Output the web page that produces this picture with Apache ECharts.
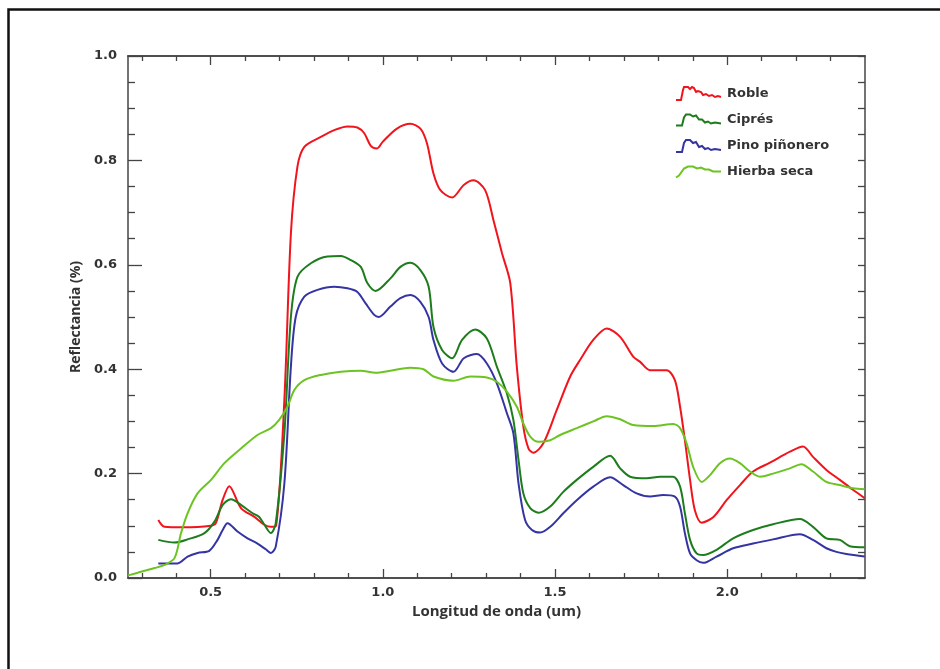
<!DOCTYPE html>
<html>
<head>
<meta charset="utf-8">
<script src="https://cdn.jsdelivr.net/npm/echarts@6/dist/echarts.min.js"></script>
<style>
  html, body { margin: 0; padding: 0; background: #fff; }
  #chart { width: 940px; height: 669px; }
</style>
</head>
<body>
<div id="chart"></div>
<script>
// espectros de reflectancia
var seriesNames = ['Roble', 'Ciprés', 'Pino piñonero', 'Hierba seca'];
var seriesColors = ['#f2141c', '#1d7d1d', '#3434a2', '#6cc423'];

var robleX = [0.348,0.366,0.42,0.5,0.515,0.535,0.554,0.588,0.627,0.656,0.675,0.69,0.714,0.733,0.752,0.772,0.82,0.859,0.897,0.926,0.946,0.965,0.983,1.0,1.041,1.08,1.109,1.128,1.147,1.167,1.201,1.235,1.263,1.297,1.321,1.346,1.37,1.389,1.408,1.423,1.437,1.466,1.505,1.544,1.573,1.611,1.65,1.689,1.727,1.747,1.776,1.824,1.848,1.863,1.877,1.892,1.906,1.926,1.96,1.998,2.037,2.075,2.124,2.182,2.22,2.249,2.288,2.327,2.365,2.399];
var robleY = [0.111,0.098,0.097,0.100,0.105,0.150,0.176,0.134,0.117,0.102,0.098,0.100,0.341,0.660,0.788,0.826,0.845,0.858,0.865,0.863,0.852,0.828,0.823,0.836,0.861,0.870,0.861,0.833,0.775,0.743,0.729,0.753,0.762,0.743,0.686,0.622,0.565,0.405,0.290,0.248,0.240,0.258,0.322,0.386,0.418,0.456,0.478,0.462,0.424,0.414,0.398,0.398,0.379,0.328,0.264,0.188,0.130,0.106,0.117,0.149,0.178,0.204,0.221,0.242,0.252,0.232,0.207,0.188,0.169,0.153];

var cipresX = [0.348,0.395,0.433,0.482,0.511,0.535,0.559,0.588,0.622,0.641,0.656,0.675,0.689,0.714,0.733,0.752,0.791,0.839,0.878,0.907,0.936,0.955,0.979,1.022,1.051,1.08,1.109,1.133,1.147,1.172,1.201,1.23,1.268,1.302,1.331,1.36,1.379,1.394,1.408,1.428,1.452,1.486,1.524,1.563,1.611,1.66,1.689,1.718,1.766,1.805,1.843,1.863,1.877,1.892,1.911,1.93,1.969,2.017,2.075,2.133,2.211,2.249,2.288,2.327,2.356,2.399];
var cipresY = [0.073,0.068,0.074,0.086,0.108,0.140,0.151,0.140,0.124,0.117,0.102,0.086,0.105,0.277,0.500,0.577,0.603,0.616,0.617,0.609,0.596,0.565,0.550,0.574,0.596,0.604,0.590,0.558,0.481,0.437,0.421,0.456,0.476,0.459,0.405,0.354,0.303,0.226,0.162,0.134,0.125,0.137,0.165,0.188,0.213,0.234,0.210,0.194,0.191,0.194,0.194,0.175,0.124,0.073,0.047,0.044,0.054,0.076,0.092,0.103,0.113,0.098,0.076,0.073,0.061,0.059];

var pinoX = [0.348,0.404,0.433,0.462,0.496,0.52,0.535,0.549,0.578,0.607,0.636,0.66,0.675,0.689,0.714,0.733,0.747,0.772,0.81,0.859,0.897,0.926,0.95,0.975,0.988,1.022,1.051,1.08,1.109,1.133,1.147,1.172,1.205,1.235,1.273,1.302,1.331,1.36,1.379,1.394,1.413,1.433,1.457,1.486,1.524,1.563,1.611,1.66,1.698,1.737,1.776,1.814,1.848,1.863,1.877,1.892,1.911,1.93,1.969,2.017,2.075,2.133,2.211,2.249,2.288,2.317,2.346,2.399];
var pinoY = [0.028,0.028,0.041,0.048,0.052,0.073,0.092,0.105,0.089,0.076,0.066,0.055,0.048,0.060,0.181,0.405,0.500,0.539,0.552,0.558,0.555,0.548,0.526,0.504,0.500,0.520,0.536,0.542,0.529,0.500,0.456,0.411,0.395,0.421,0.429,0.411,0.373,0.316,0.277,0.181,0.111,0.092,0.087,0.098,0.124,0.149,0.175,0.193,0.178,0.162,0.156,0.159,0.156,0.137,0.086,0.047,0.034,0.029,0.041,0.057,0.066,0.074,0.084,0.073,0.057,0.050,0.046,0.041];

var hierbaX = [0.26,0.288,0.337,0.366,0.395,0.414,0.433,0.462,0.501,0.54,0.588,0.636,0.675,0.699,0.723,0.743,0.772,0.82,0.878,0.936,0.979,1.022,1.08,1.118,1.147,1.205,1.254,1.302,1.331,1.36,1.389,1.408,1.428,1.452,1.486,1.515,1.563,1.611,1.65,1.689,1.727,1.786,1.843,1.863,1.882,1.901,1.926,1.95,1.979,2.008,2.037,2.066,2.095,2.133,2.182,2.215,2.249,2.288,2.327,2.365,2.399];
var hierbaY = [0.005,0.010,0.019,0.025,0.038,0.086,0.124,0.162,0.188,0.220,0.248,0.274,0.287,0.303,0.328,0.360,0.379,0.389,0.395,0.397,0.393,0.397,0.403,0.400,0.386,0.378,0.386,0.384,0.376,0.357,0.328,0.296,0.271,0.261,0.264,0.274,0.287,0.300,0.310,0.304,0.293,0.291,0.295,0.287,0.258,0.213,0.184,0.197,0.220,0.229,0.220,0.204,0.194,0.200,0.210,0.218,0.204,0.184,0.178,0.172,0.170];

var xMajorTicks = [0.5, 1.0, 1.5, 2.0];
var xMinorTicks = [0.3,0.4,0.6,0.7,0.8,0.9,1.1,1.2,1.3,1.4,1.6,1.7,1.8,1.9,2.1,2.2,2.3];

// iconos de leyenda con forma de espectro
var legendIcons = [
  'path://M0,14 L5,14 L7,4 L8,1 L12,1 L14,3 L16,1 L18,2 L20,6 L22,5 L25,6 L27,9 L30,8 L33,10 L36,9 L39,11 L42,10 L45,11',
  'path://M0,14 L6,14 L8,6 L10,3 L14,3 L17,5 L20,4 L23,8 L26,8 L29,11 L32,10 L35,12 L39,11 L45,12',
  'path://M0,14 L6,14 L8,5 L10,2 L14,2 L17,5 L20,4 L23,9 L26,8 L29,11 L32,10 L35,12 L39,11 L45,12',
  'path://M0,14 L3,12 L8,5 L12,3 L17,3 L21,5 L25,4 L29,6 L33,6 L37,8 L41,8 L45,8'
];

function zip(xs, ys) {
  var out = [];
  for (var i = 0; i < xs.length; i++) out.push([xs[i], ys[i]]);
  return out;
}
var allData = [zip(robleX, robleY), zip(cipresX, cipresY), zip(pinoX, pinoY), zip(hierbaX, hierbaY)];

var axisColor = '#444';
var txt = { color: '#333', fontWeight: 'bold', fontSize: 13, fontFamily: 'DejaVu Sans' };

function xAxisBase(pos, ticks, len, labels) {
  return {
    type: 'value', position: pos, min: 0.26, max: 2.4,
    axisLine: { show: true, onZero: false, lineStyle: { color: axisColor, width: 1.5 } },
    axisTick: { show: true, inside: true, length: len, customValues: ticks, lineStyle: { color: axisColor, width: 1.3 } },
    axisLabel: labels ? {
      show: true, customValues: xMajorTicks, margin: 8,
      formatter: function (v) { return v.toFixed(1); },
      color: txt.color, fontWeight: txt.fontWeight, fontSize: txt.fontSize, fontFamily: txt.fontFamily
    } : { show: false },
    splitLine: { show: false }
  };
}

var chart = echarts.init(document.getElementById('chart'));
var option = {
  animation: false,
  backgroundColor: '#fff',
  graphic: [{
    type: 'rect', left: 6, top: 7, shape: { width: 1000, height: 1000 },
    style: { fill: 'none', stroke: '#111', lineWidth: 2.5 }, silent: true
  }],
  grid: { left: 128, right: 75, top: 56, bottom: 91, containLabel: false },
  legend: {
    orient: 'vertical', left: 670, top: 81,
    itemWidth: 45, itemHeight: 15, itemGap: 12.5,
    textStyle: { color: '#333', fontWeight: 'bold', fontSize: 13, fontFamily: 'DejaVu Sans', padding: [0, 0, 0, 1] },
    data: seriesNames.map(function (n, i) {
      return {
        name: n, icon: legendIcons[i],
        itemStyle: { color: 'rgba(0,0,0,0)', borderColor: seriesColors[i], borderWidth: 2 }
      };
    })
  },
  xAxis: [
    Object.assign(xAxisBase('bottom', xMajorTicks, 9, true), {
      name: 'Longitud de onda (um)', nameLocation: 'middle', nameGap: 21,
      nameTextStyle: { color: '#333', fontWeight: 'bold', fontSize: 15, fontFamily: 'Open Sans' }
    }),
    xAxisBase('bottom', xMinorTicks, 5, false),
    xAxisBase('top', xMajorTicks, 9, false),
    xAxisBase('top', xMinorTicks, 5, false)
  ],
  yAxis: [
    {
      type: 'value', position: 'left', min: 0, max: 1, interval: 0.2,
      name: 'Reflectancia (%)', nameLocation: 'middle', nameGap: 45,
      nameTextStyle: { color: '#333', fontWeight: 'bold', fontSize: 14, fontFamily: 'Open Sans' },
      axisLine: { show: true, lineStyle: { color: axisColor, width: 1.5 } },
      axisTick: { show: true, inside: true, length: 14, lineStyle: { color: axisColor, width: 1.3 } },
      minorTick: { show: true, splitNumber: 4, length: 7, lineStyle: { color: axisColor, width: 1.3 } },
      axisLabel: {
        margin: 11, formatter: function (v) { return v.toFixed(1); },
        color: txt.color, fontWeight: txt.fontWeight, fontSize: txt.fontSize, fontFamily: txt.fontFamily
      },
      splitLine: { show: false }
    },
    {
      type: 'value', position: 'right', min: 0, max: 1, interval: 0.05,
      axisLine: { show: true, lineStyle: { color: axisColor, width: 1.5 } },
      axisTick: { show: true, inside: true, length: 7, lineStyle: { color: axisColor, width: 1.3 } },
      axisLabel: { show: false },
      splitLine: { show: false }
    }
  ],
  series: seriesNames.map(function (n, i) {
    return {
      name: n, type: 'line', xAxisIndex: 0, yAxisIndex: 0,
      data: allData[i], showSymbol: false, smooth: 0.3,
      lineStyle: { color: seriesColors[i], width: 2 },
      itemStyle: { color: seriesColors[i] },
      clip: true
    };
  })
};
chart.setOption(option);
</script>
</body>
</html>
